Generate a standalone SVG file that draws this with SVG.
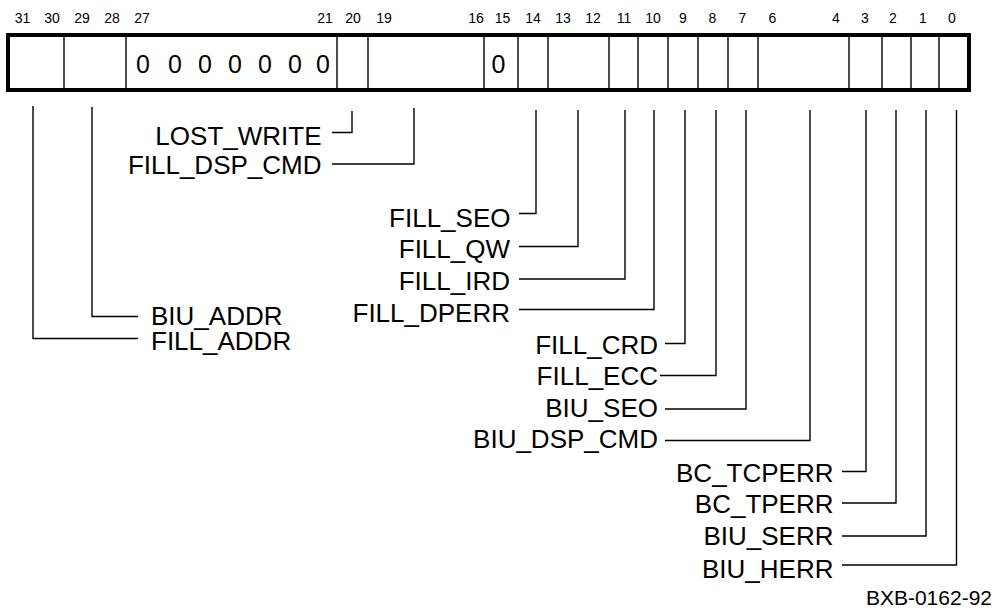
<svg xmlns="http://www.w3.org/2000/svg" width="995" height="611" viewBox="0 0 995 611">
<style>
text{font-family:"Liberation Sans",Arial,sans-serif;fill:#000}
.bit{font-size:14px;text-anchor:middle}
.zero{font-size:25px;text-anchor:middle}
.lbl{font-size:26px}
.r{text-anchor:end}
.div{stroke:#000;stroke-width:1.4;fill:none}
.box{stroke:#000;stroke-width:4;fill:#fff}
.conn{stroke:#000;stroke-width:1.4;fill:none}
</style>
<rect width="995" height="611" fill="#fff"/>
<g id="bit-numbers">
<text class="bit" x="22.5" y="23">31</text>
<text class="bit" x="52" y="23">30</text>
<text class="bit" x="82" y="23">29</text>
<text class="bit" x="112" y="23">28</text>
<text class="bit" x="142" y="23">27</text>
<text class="bit" x="325" y="23">21</text>
<text class="bit" x="353" y="23">20</text>
<text class="bit" x="384" y="23">19</text>
<text class="bit" x="476" y="23">16</text>
<text class="bit" x="502.5" y="23">15</text>
<text class="bit" x="533" y="23">14</text>
<text class="bit" x="563" y="23">13</text>
<text class="bit" x="593" y="23">12</text>
<text class="bit" x="624" y="23">11</text>
<text class="bit" x="653" y="23">10</text>
<text class="bit" x="683" y="23">9</text>
<text class="bit" x="712.5" y="23">8</text>
<text class="bit" x="742.5" y="23">7</text>
<text class="bit" x="772.5" y="23">6</text>
<text class="bit" x="836" y="23">4</text>
<text class="bit" x="865" y="23">3</text>
<text class="bit" x="893" y="23">2</text>
<text class="bit" x="923" y="23">1</text>
<text class="bit" x="952" y="23">0</text>
</g>
<g id="register">
<rect class="box" x="8" y="35" width="961" height="55"/>
<path class="div" d="M64,35V90M126,35V90M337,35V90M368,35V90M484,35V90M518,35V90M548,35V90M609,35V90M638,35V90M668,35V90M698,35V90M728,35V90M758,35V90M849,35V90M882,35V90M911,35V90M939,35V90"/>
<text class="zero" x="143" y="73">0</text>
<text class="zero" x="175" y="73">0</text>
<text class="zero" x="205" y="73">0</text>
<text class="zero" x="235" y="73">0</text>
<text class="zero" x="265" y="73">0</text>
<text class="zero" x="295" y="73">0</text>
<text class="zero" x="323" y="73">0</text>
<text class="zero" x="498.5" y="73">0</text>
</g>
<g id="connectors">
<path class="conn" d="M33,106V338.5H138"/>
<path class="conn" d="M92,107V316.5H138"/>
<path class="conn" d="M352,111V132.5H332"/>
<path class="conn" d="M414,108V164H332"/>
<path class="conn" d="M536,110V213.5H519"/>
<path class="conn" d="M578,110V246.5H519"/>
<path class="conn" d="M625,110V279H519"/>
<path class="conn" d="M654,110V309.5H519"/>
<path class="conn" d="M685,110V343.5H665"/>
<path class="conn" d="M716,110V375.5H660"/>
<path class="conn" d="M746,110V409H665"/>
<path class="conn" d="M810,110V440.5H665"/>
<path class="conn" d="M866,110V471.5H842"/>
<path class="conn" d="M896,110V503H842"/>
<path class="conn" d="M926,110V536H842"/>
<path class="conn" d="M956.5,110V565H842"/>
</g>
<g id="lbl-lost-write"><text class="lbl r" x="321.5" y="145">LOST_WRITE</text></g>
<g id="lbl-fill-dsp-cmd"><text class="lbl r" x="321.5" y="174">FILL_DSP_CMD</text></g>
<g id="lbl-fill-seo"><text class="lbl r" x="510.5" y="226.5">FILL_SEO</text></g>
<g id="lbl-fill-qw"><text class="lbl r" x="510" y="257.5">FILL_QW</text></g>
<g id="lbl-fill-ird"><text class="lbl r" x="510" y="290">FILL_IRD</text></g>
<g id="lbl-fill-dperr"><text class="lbl r" x="510" y="321.5">FILL_DPERR</text></g>
<g id="lbl-biu-addr"><text class="lbl" x="151" y="325">BIU_ADDR</text></g>
<g id="lbl-fill-addr"><text class="lbl" x="151" y="350">FILL_ADDR</text></g>
<g id="lbl-fill-crd"><text class="lbl r" x="658" y="353.5">FILL_CRD</text></g>
<g id="lbl-fill-ecc"><text class="lbl r" x="658" y="384.5">FILL_ECC</text></g>
<g id="lbl-biu-seo"><text class="lbl r" x="658" y="416.5">BIU_SEO</text></g>
<g id="lbl-biu-dsp-cmd"><text class="lbl r" x="658" y="448">BIU_DSP_CMD</text></g>
<g id="lbl-bc-tcperr"><text class="lbl r" x="833.5" y="481.5">BC_TCPERR</text></g>
<g id="lbl-bc-tperr"><text class="lbl r" x="833.5" y="513">BC_TPERR</text></g>
<g id="lbl-biu-serr"><text class="lbl r" x="833.5" y="545">BIU_SERR</text></g>
<g id="lbl-biu-herr"><text class="lbl r" x="833.5" y="578">BIU_HERR</text></g>
<g id="figure-id"><text x="992" y="605" font-size="21" text-anchor="end">BXB-0162-92</text></g>
</svg>
